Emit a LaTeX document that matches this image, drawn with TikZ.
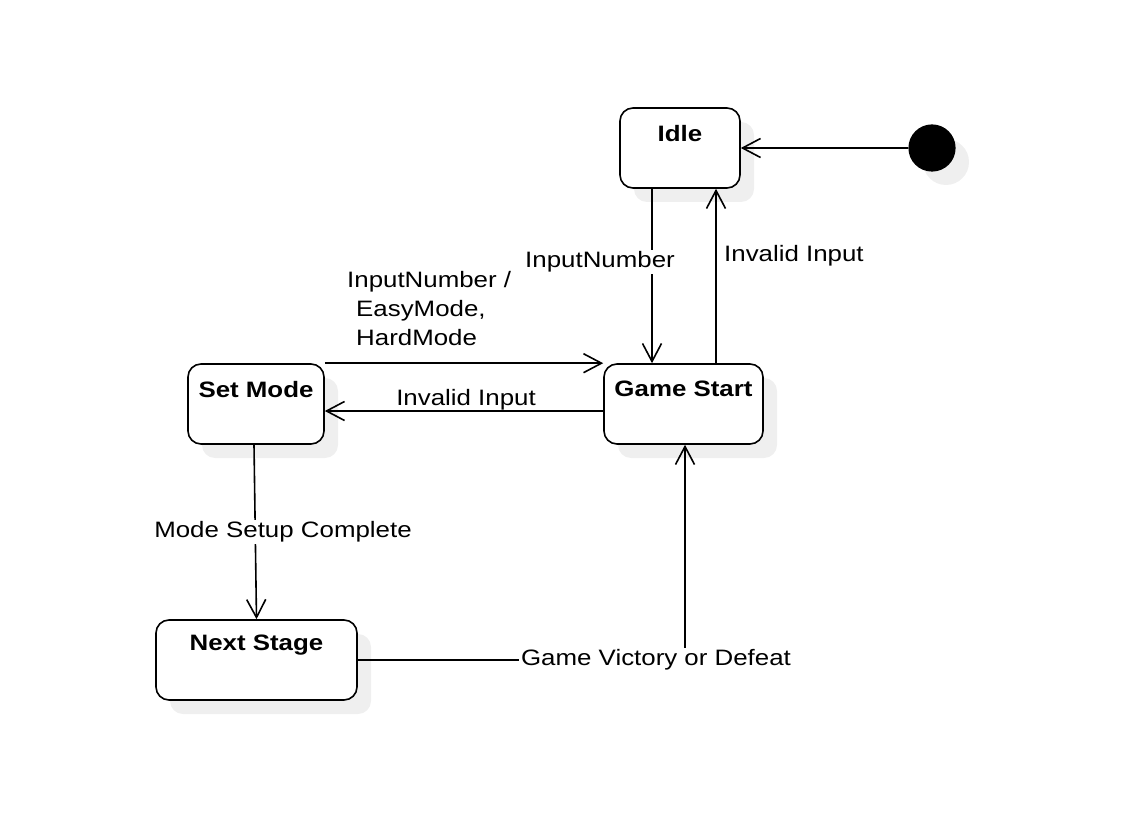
\documentclass[tikz,border=0pt]{standalone}
\usepackage{fontspec}
\setmainfont{Liberation Sans}[FakeStretch=1.16]
\usetikzlibrary{arrows.meta,calc}
\definecolor{shadowgray}{HTML}{EFEFEF}
\begin{document}
\begin{tikzpicture}[x=1pt,y=-1pt,
  every node/.style={font=\fontsize{22.3}{29}\selectfont},
  shadowed/.style={preaction={fill=shadowgray,draw=none,transform canvas={xshift=14pt,yshift=-14pt}}},
  statebox/.style={draw,line width=1.6pt,rounded corners=13pt,fill=white,shadowed,minimum height=80pt,inner sep=0pt},
  initstate/.style={circle,fill=black,draw=black,line width=1.2pt,minimum size=46pt,inner sep=0pt,shadowed},
  arr/.style={line width=1.6pt,-{Straight Barb[length=18pt,width=19pt,line width=1.6pt]}},
  lbl/.style={inner sep=1pt},
  lblw/.style={inner sep=2pt,fill=white},
  title/.style={anchor=center,yshift=-26pt,font=\fontsize{22.3}{29}\selectfont\bfseries}
]
\useasboundingbox (0,0) rectangle (1124,818);
% states
\node[statebox,minimum width=120pt,label={[title]north:Idle}] (idle) at (680,148) {};
\node[initstate] (init) at (932,148) {};
\node[statebox,minimum width=136pt,label={[title]north:Set Mode}] (sm) at (256,404) {};
\node[statebox,minimum width=159pt,label={[title]north:Game Start}] (gs) at (683.5,404) {};
\node[statebox,minimum width=201pt,label={[title]north:Next Stage}] (ns) at (256.5,660) {};
\coordinate (gsb) at ([xshift=1.5pt]gs.south);
% transitions
\draw[arr] (init.west) -- (idle.east);
\draw[arr] ([xshift=-28pt]idle.south) -- ([xshift=-28pt]idle.south |- gs.north);
\draw[arr] ([xshift=36pt]idle.south |- gs.north) -- ([xshift=36pt]idle.south);
\draw[arr] (sm.north east) -- (gs.north west);
\draw[arr] ([yshift=-7pt]gs.west) -- ([yshift=-7pt]sm.east);
\draw[arr] ([xshift=-2pt]sm.south) -- (ns.north);
\draw[arr] (ns.east) -- (ns.east -| gsb) -- (gsb);
% labels
\node[lblw] (l1) at (600,262) {InputNumber};
\node[lblw,anchor=west] (l2) at (722,256) {Invalid Input};
\node[lbl,align=left,anchor=west] (l3) at (346,309) {InputNumber /\\\hspace{9pt}EasyMode,\\\hspace{9pt}HardMode};
\node[lbl] (l4) at (466,400) {Invalid Input};
\node[lblw] (l5) at (283,532) {Mode Setup Complete};
\node[lblw] (l6) at (656,660) {Game Victory or Defeat};
\end{tikzpicture}
\end{document}
